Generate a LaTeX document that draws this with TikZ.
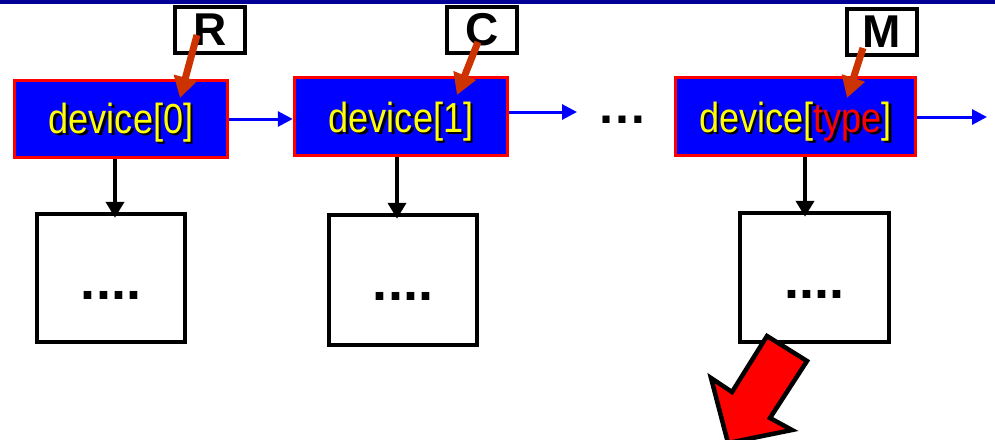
\documentclass[tikz,border=0pt]{standalone}
\usepackage{fontspec}
\setmainfont{Liberation Sans}
\newfontfamily\narrowfont[FakeStretch=0.86]{Liberation Sans}
\usetikzlibrary{arrows.meta,calc}
\definecolor{topblue}{RGB}{0,0,153}
\definecolor{devblue}{RGB}{0,0,255}
\definecolor{devred}{RGB}{255,0,0}
\definecolor{devyellow}{RGB}{255,255,0}
\definecolor{ptrorange}{RGB}{204,51,0}
\newcommand\shtext[2]{\makebox[0pt][l]{\hspace{2.5pt}\raisebox{-2.5pt}{\color{black}#1}}#2}
\begin{document}
\begin{tikzpicture}[x=1pt,y=-1pt,
 devbox/.style={draw=devred,fill=devblue,line width=3.5pt,inner sep=0pt},
 devtext/.style={font=\narrowfont\fontsize{42}{42}\selectfont,text=devyellow,inner sep=0pt,anchor=base},
 labbox/.style={draw=black,line width=4.5pt,fill=white,inner sep=0pt,minimum width=70pt,minimum height=46pt,font=\bfseries\fontsize{46}{46}\selectfont},
 subbox/.style={draw=black,line width=4.5pt,fill=white,inner sep=0pt},
 dotstext/.style={font=\bfseries\fontsize{54}{54}\selectfont,inner sep=0pt},
 ptr/.style={draw=ptrorange,line width=7pt,-{Triangle[length=21pt,width=23pt]}},
 link/.style={draw=devblue,line width=3pt,-{Triangle[length=15pt,width=15pt]}},
 down/.style={draw=black,line width=4.5pt,shorten >=-6pt,-{Triangle[length=16pt,width=18pt]}},
 bigarrow/.style={draw=black,line width=4.5pt,fill=red,line join=miter}
]
\useasboundingbox (0,0) rectangle (995,439);
\clip (0,0) rectangle (995,439);
\fill[white] (0,0) rectangle (995,439);
\fill[topblue] (0,0) rectangle (995,3.5);

% device boxes
\node[devbox,minimum width=213pt,minimum height=77pt] (d0) at (121,119) {};
\node[devbox,minimum width=213pt,minimum height=78pt] (d1) at (401,116.5) {};
\node[devbox,minimum width=240pt,minimum height=78pt] (d2) at (795.5,116.5) {};
\node[devtext] (t0) at (121,133) {\shtext{device[0]}{device[0]}};
\node[devtext] (t1) at (401,132) {\shtext{device[1]}{device[1]}};
\node[devtext] (t2) at (795.5,132) {\shtext{device[type]}{device[\textcolor{red}{type}]}};

% label boxes
\node[labbox] (r) at (210,30) {R};
\node[labbox] (c) at (482,30) {C};
\node[labbox] (m) at (882,32) {M};

% sub boxes
\node[subbox,minimum width=148pt,minimum height=128pt] (b0) at (111,278) {};
\node[subbox,minimum width=148pt,minimum height=130pt] (b1) at (403,280) {};
\node[subbox,minimum width=149pt,minimum height=129pt] (b2) at (814.5,277.5) {};
\node[dotstext] (e0) at (111,295) {....};
\node[dotstext] (e1) at (403,296) {....};
\node[dotstext] (e2) at (814.5,294) {....};

% ellipsis
\node[font=\bfseries\fontsize{50}{50}\selectfont,inner sep=0pt] (ell) at (622,120) {…};

% links
\draw[link] (d0.east) -- (d0.east -| d1.west);
\coordinate (n1) at (577,112);
\draw[link] (d1.east |- n1) -- (n1);
\coordinate (n2) at (987,117);
\draw[link] (d2.east |- n2) -- (n2);

% down arrows
\coordinate (x0) at (115,0);
\coordinate (x1) at (397,0);
\coordinate (x2) at (805,0);
\draw[down] (d0.south -| x0) -- (b0.north -| x0);
\draw[down] (d1.south -| x1) -- (b1.north -| x1);
\draw[down] (d2.south -| x2) -- (b2.north -| x2);

% pointer arrows
\draw[ptr] ($(r.center)+(-13,5)$) -- ($(d0.center)+(59,-21)$);
\draw[ptr] ($(c.center)+(-4,12)$) -- ($(d1.center)+(56,-21.5)$);
\draw[ptr] ($(m.center)+(-19,16)$) -- ($(d2.center)+(51.5,-18.5)$);

% big red arrow
\draw[bigarrow] (767,336) -- (807,361) -- (770,418) -- (792,430) -- (728,443) -- (711,378) -- (732,392) -- cycle;
\end{tikzpicture}
\end{document}
